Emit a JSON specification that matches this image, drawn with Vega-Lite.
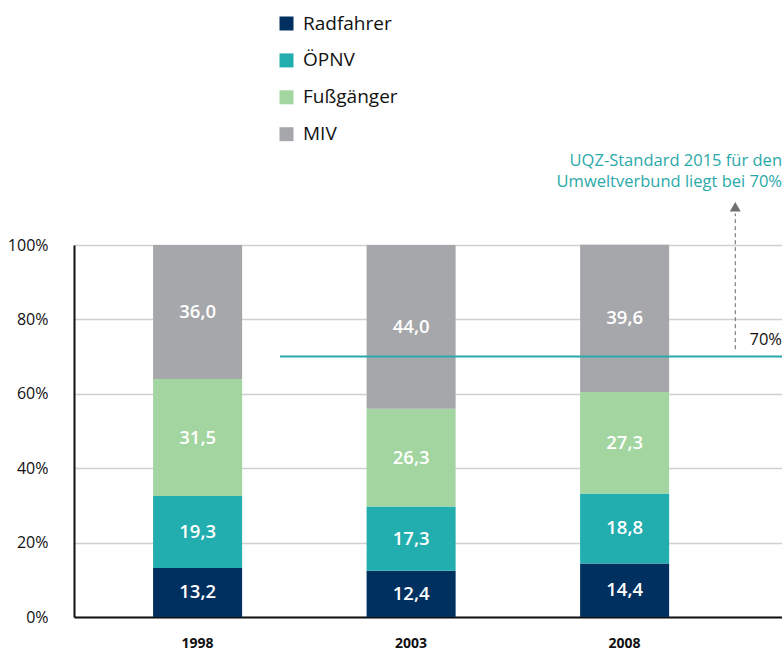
{
  "$schema": "https://vega.github.io/schema/vega-lite/v6.json",
  "width": 708,
  "height": 372,
  "autosize": "none",
  "padding": {"left": 74, "top": 245, "right": 0, "bottom": 36},
  "config": {
    "font": "Open Sans",
    "view": {"stroke": null},
    "locale": {"number": {"decimal": ",", "thousands": ".", "grouping": [3], "currency": ["", " €"]}}
  },
  "datasets": {
    "bars": [
      {"jahr": "1998", "modus": "Radfahrer", "rang": 1, "anteil": 13.2},
      {"jahr": "1998", "modus": "ÖPNV", "rang": 2, "anteil": 19.3},
      {"jahr": "1998", "modus": "Fußgänger", "rang": 3, "anteil": 31.5},
      {"jahr": "1998", "modus": "MIV", "rang": 4, "anteil": 36.0},
      {"jahr": "2003", "modus": "Radfahrer", "rang": 1, "anteil": 12.4},
      {"jahr": "2003", "modus": "ÖPNV", "rang": 2, "anteil": 17.3},
      {"jahr": "2003", "modus": "Fußgänger", "rang": 3, "anteil": 26.3},
      {"jahr": "2003", "modus": "MIV", "rang": 4, "anteil": 44.0},
      {"jahr": "2008", "modus": "Radfahrer", "rang": 1, "anteil": 14.4},
      {"jahr": "2008", "modus": "ÖPNV", "rang": 2, "anteil": 18.8},
      {"jahr": "2008", "modus": "Fußgänger", "rang": 3, "anteil": 27.3},
      {"jahr": "2008", "modus": "MIV", "rang": 4, "anteil": 39.6}
    ]
  },
  "layer": [
    {
      "data": {"name": "bars"},
      "encoding": {
        "x": {
          "field": "jahr",
          "type": "nominal",
          "scale": {"paddingInner": 0.583, "paddingOuter": 0.4495, "align": 0.412},
          "axis": {
            "title": null,
            "labelAngle": 0,
            "labelFontWeight": "bold",
            "labelFontSize": 14,
            "labelColor": "#111111",
            "labelPadding": 19,
            "ticks": false,
            "domainColor": "#111111",
            "domainWidth": 2
          }
        }
      },
      "layer": [
        {
          "mark": {"type": "bar"},
          "encoding": {
            "y": {
              "field": "anteil",
              "type": "quantitative",
              "stack": "zero",
              "scale": {"domain": [0, 100], "nice": false},
              "axis": {
                "title": null,
                "values": [0, 20, 40, 60, 80, 100],
                "labelExpr": "datum.value + '%'",
                "labelFontSize": 16,
                "labelColor": "#111111",
                "labelPadding": 26,
                "ticks": false,
                "domainColor": "#111111",
                "domainWidth": 2,
                "gridColor": "#d0d0d0",
                "gridWidth": 1.5
              }
            },
            "order": {"field": "rang", "type": "quantitative", "sort": "ascending"},
            "color": {
              "field": "modus",
              "type": "nominal",
              "scale": {
                "domain": ["Radfahrer", "ÖPNV", "Fußgänger", "MIV"],
                "range": ["#00305f", "#22aeae", "#a2d5a0", "#a6a7ab"]
              },
              "legend": {
                "title": null,
                "orient": "none",
                "legendX": 203,
                "legendY": -231,
                "symbolType": "square",
                "symbolSize": 196,
                "symbolStrokeWidth": 0,
                "symbolOpacity": 1,
                "labelFontSize": 19,
                "labelColor": "#111111",
                "labelOffset": 7,
                "rowPadding": 16.9
              }
            }
          }
        },
        {
          "mark": {"type": "text", "color": "white", "fontSize": 18.5, "fontWeight": 600},
          "encoding": {
            "y": {"field": "anteil", "type": "quantitative", "stack": "zero", "bandPosition": 0.5},
            "order": {"field": "rang", "type": "quantitative", "sort": "ascending"},
            "detail": {"field": "modus", "type": "nominal"},
            "text": {"field": "anteil", "type": "quantitative", "format": ".1f"}
          }
        }
      ]
    },
    {
      "data": {"values": [{}]},
      "layer": [
        {
          "mark": {"type": "rule", "color": "#2aa9a9", "strokeWidth": 2},
          "encoding": {
            "x": {"datum": 0.291, "type": "quantitative", "scale": {"domain": [0, 1], "nice": false}, "axis": null},
            "x2": {"datum": 1},
            "y": {"datum": 70, "type": "quantitative"}
          }
        },
        {
          "mark": {"type": "rule", "color": "#666666", "strokeWidth": 1, "strokeDash": [4, 3]},
          "encoding": {
            "x": {"datum": 0.934, "type": "quantitative", "axis": null},
            "y": {"datum": 72, "type": "quantitative"},
            "y2": {"datum": 108.5}
          }
        },
        {
          "mark": {"type": "point", "shape": "triangle-up", "filled": true, "color": "#707070", "opacity": 1, "size": 120},
          "encoding": {
            "x": {"datum": 0.934, "type": "quantitative", "axis": null},
            "y": {"datum": 110.3, "type": "quantitative"}
          }
        },
        {
          "mark": {"type": "text", "text": "70%", "align": "right", "baseline": "alphabetic", "fontSize": 16.5, "color": "#111111"},
          "encoding": {
            "x": {"datum": 1, "type": "quantitative", "axis": null},
            "y": {"datum": 73.1, "type": "quantitative"}
          }
        },
        {
          "mark": {
            "type": "text",
            "text": ["UQZ-Standard 2015 für den", "Umweltverbund liegt bei 70%"],
            "align": "right",
            "baseline": "alphabetic",
            "fontSize": 16.5,
            "lineHeight": 21,
            "color": "#2aa9a9"
          },
          "encoding": {
            "x": {"datum": 1, "type": "quantitative", "axis": null},
            "y": {"datum": 121.2, "type": "quantitative"}
          }
        }
      ]
    }
  ],
  "resolve": {"scale": {"x": "independent"}}
}
